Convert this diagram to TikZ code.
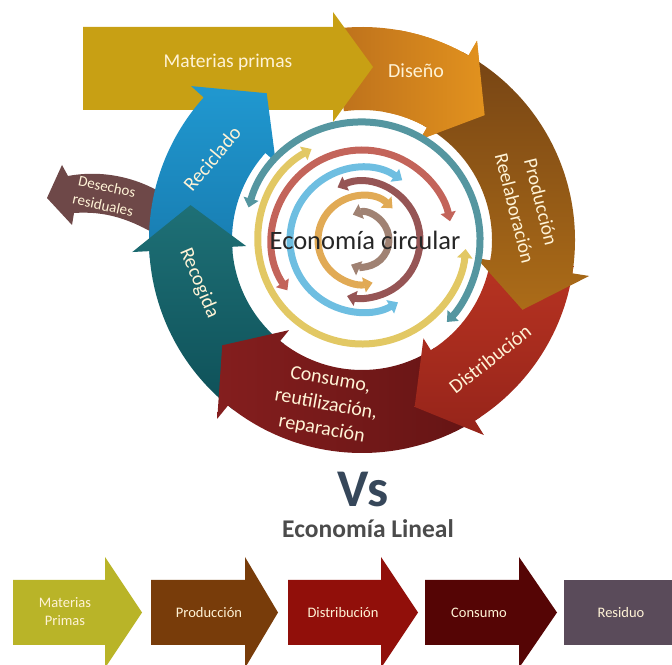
\documentclass[tikz,border=0pt]{standalone}
\usepackage{fontspec}
\setmainfont{Carlito}
\usetikzlibrary{arrows.meta}

% band colours of the circular cycle
\definecolor{cMat}{RGB}{200,160,20}
\definecolor{cDisA}{RGB}{188,112,28}
\definecolor{cDisB}{RGB}{226,146,30}
\definecolor{cProA}{RGB}{118,68,20}
\definecolor{cProB}{RGB}{172,108,24}
\definecolor{cDistA}{RGB}{185,52,34}
\definecolor{cDistB}{RGB}{150,36,26}
\definecolor{cConA}{RGB}{132,30,30}
\definecolor{cConB}{RGB}{100,20,20}
\definecolor{cRecogA}{RGB}{30,112,118}
\definecolor{cRecogB}{RGB}{14,80,88}
\definecolor{cRecicA}{RGB}{32,152,208}
\definecolor{cRecicB}{RGB}{24,124,176}
\definecolor{cDes}{RGB}{110,72,72}
% inner rings
\definecolor{rTeal}{RGB}{85,150,160}
\definecolor{rYel}{RGB}{226,200,100}
\definecolor{rRed}{RGB}{195,100,90}
\definecolor{rBlue}{RGB}{110,190,225}
\definecolor{rMauve}{RGB}{150,85,85}
\definecolor{rOra}{RGB}{225,170,85}
\definecolor{rGrey}{RGB}{160,130,115}
% linear chain
\definecolor{lA}{RGB}{185,180,40}
\definecolor{lB}{RGB}{120,60,10}
\definecolor{lC}{RGB}{145,15,10}
\definecolor{lD}{RGB}{85,5,5}
\definecolor{lE}{RGB}{90,75,90}
\definecolor{cream}{RGB}{255,243,214}
\definecolor{slate}{RGB}{54,71,90}
\definecolor{titlegrey}{RGB}{75,75,75}

% curved band arrow: paint options, tail angle, base angle of the head, tip angle
\newcommand{\bandarrow}[4]{%
  \path[#1] (#2:213) arc[start angle=#2, end angle=#3, radius=213]
    -- (#3:230) -- (#4:175) -- (#3:116) -- (#3:130)
    arc[start angle=#3, end angle=#2, radius=130] -- cycle;}
\newcommand{\designband}{\bandarrow{left color=cDisA, right color=cDisB}{98}{60}{45.5}}

\tikzset{
  ringtip/.tip={Triangle[width=15pt,length=9pt]},
  ring/.style={line width=7pt, ringtip-ringtip},
  lbl/.style={text=cream, font=\fontsize{20}{25}\selectfont, align=center, inner sep=0pt},
  smalllbl/.style={text=cream, font=\fontsize{14.5}{18}\selectfont, align=center, inner sep=0pt},
}

\begin{document}
\begin{tikzpicture}[x=1pt,y=1pt]
\useasboundingbox (0,0) rectangle (672,664);
\clip (0,0) rectangle (672,664);

% ---- circular economy ----
\begin{scope}[shift={(362,424)}]
  \designband
\end{scope}

% straight input arrow
\fill[cMat] (83,637) -- (333,637) -- (333,652) -- (373,597) -- (333,542)
  -- (333,554) -- (83,554) -- cycle;

% waste branch
\fill[cDes] (165,469) .. controls (135,488) and (100,494) .. (68,488)
  -- (62,499) -- (47,466) -- (72,439) -- (74,451)
  .. controls (105,453) and (130,446) .. (165,424) -- cycle;

\begin{scope}[shift={(362,424)}]
  \bandarrow{top color=cRecicA, bottom color=cRecicB}{185}{138}{123}
  \bandarrow{top color=cRecogA, bottom color=cRecogB}{233}{183}{168.5}
  \bandarrow{left color=cConA, right color=cConB}{-56}{-129}{-143}
  \bandarrow{top color=cDistA, bottom color=cDistB}{-7}{-58}{-72.5}
  \bandarrow{top color=cProA, bottom color=cProB}{62}{-9}{-23.5}
  % head of the design band lies over the production band
  \begin{scope}
    \clip (0,0) -- (80:260) arc[start angle=80, end angle=20, radius=260] -- cycle;
    \designband
  \end{scope}

  % inner rings
  \draw[ring, rTeal]  (164:118) arc[start angle=164, end angle=-44, radius=118];
  \draw[ring, rYel]   (119:104) arc[start angle=119, end angle=355, radius=104];
  \draw[ring, rRed]   (214:90)  arc[start angle=214, end angle=12,  radius=90];
  \draw[ring, rBlue]  (56:72)   arc[start angle=56,  end angle=300, radius=72];
  \draw[ring, rMauve] (115:58)  arc[start angle=115, end angle=-105, radius=58];
  \draw[ring, rOra]   (46:44)   arc[start angle=46,  end angle=284, radius=44];
  \draw[ring, rGrey]  (110:27)  arc[start angle=110, end angle=-114, radius=27];
\end{scope}

% labels of the cycle
\node[lbl, font=\fontsize{19.5}{24}\selectfont] (tMat) at (228,602) {Materias primas};
\node[lbl] (tDis) at (416,593) {Diseño};
\node[lbl, rotate=-76, font=\fontsize{19.5}{27}\selectfont] (tPro) at (528,459) {Producción\\Reelaboración};
\node[lbl, rotate=38] (tDist) at (490,305) {Distribución};
\node[lbl, rotate=-10] (tCon) at (326,259) {Consumo,\\reutilización,\\reparación};
\node[lbl, rotate=-67] (tRecog) at (199,381) {Recogida};
\node[lbl, rotate=50] (tRecic) at (212,505) {Reciclado};
\node[lbl, rotate=-12, font=\fontsize{15}{19}\selectfont] (tDes) at (105,468) {Desechos\\residuales};
\node[text=black!85, font=\fontsize{26.5}{32}\selectfont, anchor=base] (tCirc) at (365,414) {Economía circular};

% ---- linear economy ----
\node[text=slate, font=\bfseries\fontsize{53}{60}\selectfont, anchor=base] (tVs) at (363,157) {Vs};
\node[text=titlegrey, font=\bfseries\fontsize{25.5}{30}\selectfont, anchor=base] (tLin) at (368,126) {Economía Lineal};

\foreach \xa/\xb/\xt/\col in {13/105/142/lA, 151/245/278/lB, 288/381/418/lC, 425/519/557/lD}
  \fill[\col] (\xa,84) -- (\xb,84) -- (\xb,107) -- (\xt,51.5) -- (\xb,-4)
    -- (\xb,19) -- (\xa,19) -- cycle;
\fill[lE] (564,19) rectangle (672,84);

\node[smalllbl] (lMat) at (65,52) {Materias\\Primas};
\node[smalllbl] (lPro) at (209,51) {Producción};
\node[smalllbl] (lDist) at (343,51) {Distribución};
\node[smalllbl] (lCon) at (479,51) {Consumo};
\node[smalllbl] (lRes) at (621,51) {Residuo};
\end{tikzpicture}
\end{document}
